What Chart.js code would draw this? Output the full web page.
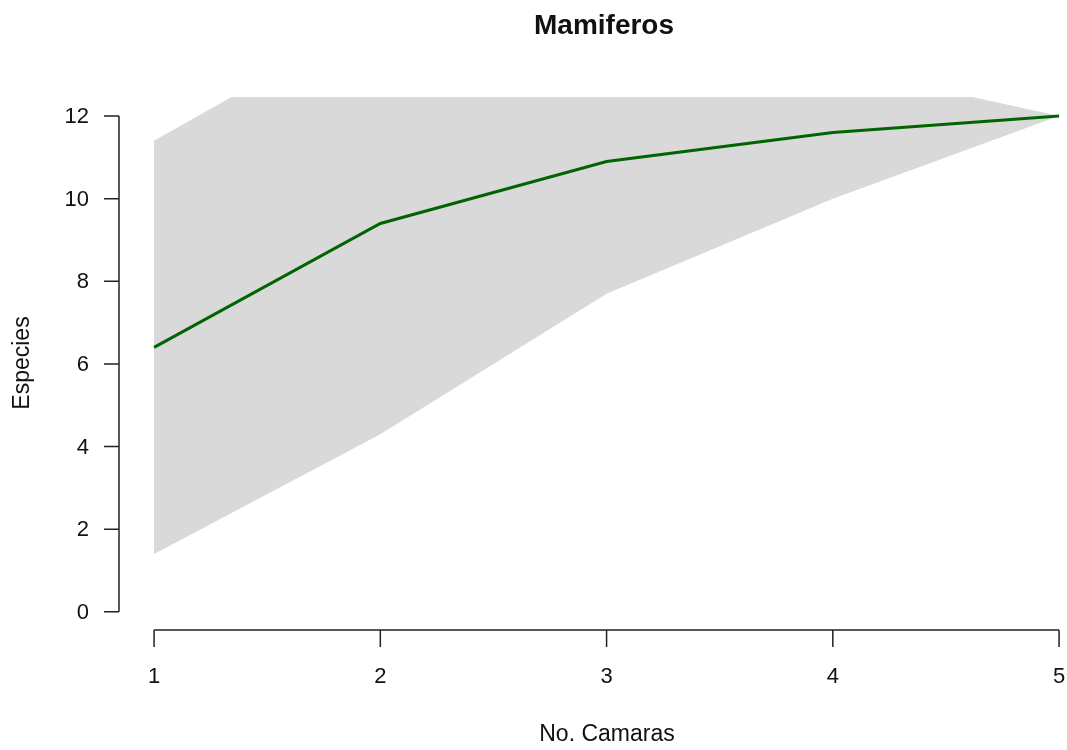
<!DOCTYPE html>
<html>
<head>
<meta charset="utf-8">
<script src="https://cdn.jsdelivr.net/npm/chart.js@4"></script>
<style>
    html, body { margin: 0; padding: 0; background: #fff; overflow: hidden; }
    #wrap { width: 1067px; height: 750px; }
</style>
</head>
<body>
<div id="wrap"><canvas id="chart" width="1067" height="750"></canvas></div>
<script>
// Data
const cameras = [1, 2, 3, 4, 5];
const richness = [6.4, 9.4, 10.9, 11.6, 12.0];
const lowerBound = [1.4, 4.3, 7.7, 10.0, 12.0];
const upperBound = [11.4, 14.5, 14.1, 13.2, 12.0];
const yTicks = [0, 2, 4, 6, 8, 10, 12];
const xTicks = [1, 2, 3, 4, 5];

const FONT = '"Liberation Sans", Arial, sans-serif';

function toPoints(ys) {
    return cameras.map((x, i) => ({ x: x, y: ys[i] }));
}

// R-style detached axes, tick labels and titles
const baseAxes = {
    id: 'baseAxes',
    afterDraw(chart) {
        const ctx = chart.ctx;
        const xs = chart.scales.x;
        const ys = chart.scales.y;
        const area = chart.chartArea;

        ctx.save();
        ctx.strokeStyle = '#222';
        ctx.lineWidth = 1.5;
        ctx.fillStyle = '#111';

        // y axis
        const yx = area.left;
        ctx.beginPath();
        ctx.moveTo(yx, ys.getPixelForValue(yTicks[0]));
        ctx.lineTo(yx, ys.getPixelForValue(yTicks[yTicks.length - 1]));
        yTicks.forEach(t => {
            const py = ys.getPixelForValue(t);
            ctx.moveTo(yx, py);
            ctx.lineTo(yx - 15, py);
        });
        ctx.stroke();

        ctx.font = '22px ' + FONT;
        ctx.textAlign = 'right';
        ctx.textBaseline = 'middle';
        yTicks.forEach(t => {
            ctx.fillText(String(t), yx - 30, ys.getPixelForValue(t) + 1);
        });

        // x axis
        const xy = area.bottom;
        ctx.beginPath();
        ctx.moveTo(xs.getPixelForValue(xTicks[0]), xy);
        ctx.lineTo(xs.getPixelForValue(xTicks[xTicks.length - 1]), xy);
        xTicks.forEach(t => {
            const px = xs.getPixelForValue(t);
            ctx.moveTo(px, xy);
            ctx.lineTo(px, xy + 17);
        });
        ctx.stroke();

        ctx.textAlign = 'center';
        xTicks.forEach(t => {
            ctx.fillText(String(t), xs.getPixelForValue(t), 677);
        });

        // titles
        ctx.font = '23px ' + FONT;
        ctx.fillText('No. Camaras', 607, 735);

        ctx.save();
        ctx.translate(23, 363);
        ctx.rotate(-Math.PI / 2);
        ctx.fillText('Especies', 0, 0);
        ctx.restore();

        ctx.font = 'bold 28px ' + FONT;
        ctx.fillText('Mamiferos', 604, 26);
        ctx.restore();
    }
};

new Chart(document.getElementById('chart'), {
    type: 'line',
    data: {
        datasets: [
            {
                label: 'upper',
                data: toPoints(upperBound),
                borderWidth: 0,
                pointRadius: 0,
                backgroundColor: '#d9d9d9',
                fill: '+1',
                order: 2
            },
            {
                label: 'lower',
                data: toPoints(lowerBound),
                borderWidth: 0,
                pointRadius: 0,
                fill: false,
                order: 2
            },
            {
                label: 'Especies',
                data: toPoints(richness),
                borderColor: '#006400',
                borderWidth: 3,
                pointRadius: 0,
                fill: false,
                order: 1
            }
        ]
    },
    options: {
        responsive: false,
        animation: false,
        layout: { padding: { left: 119, right: 0, top: 97, bottom: 120 } },
        plugins: {
            legend: { display: false },
            tooltip: { enabled: false },
            title: { display: false }
        },
        scales: {
            x: { type: 'linear', min: 0.845, max: 5.035, display: false },
            y: { type: 'linear', min: -0.44, max: 12.46, display: false }
        }
    },
    plugins: [baseAxes]
});
</script>
</body>
</html>
